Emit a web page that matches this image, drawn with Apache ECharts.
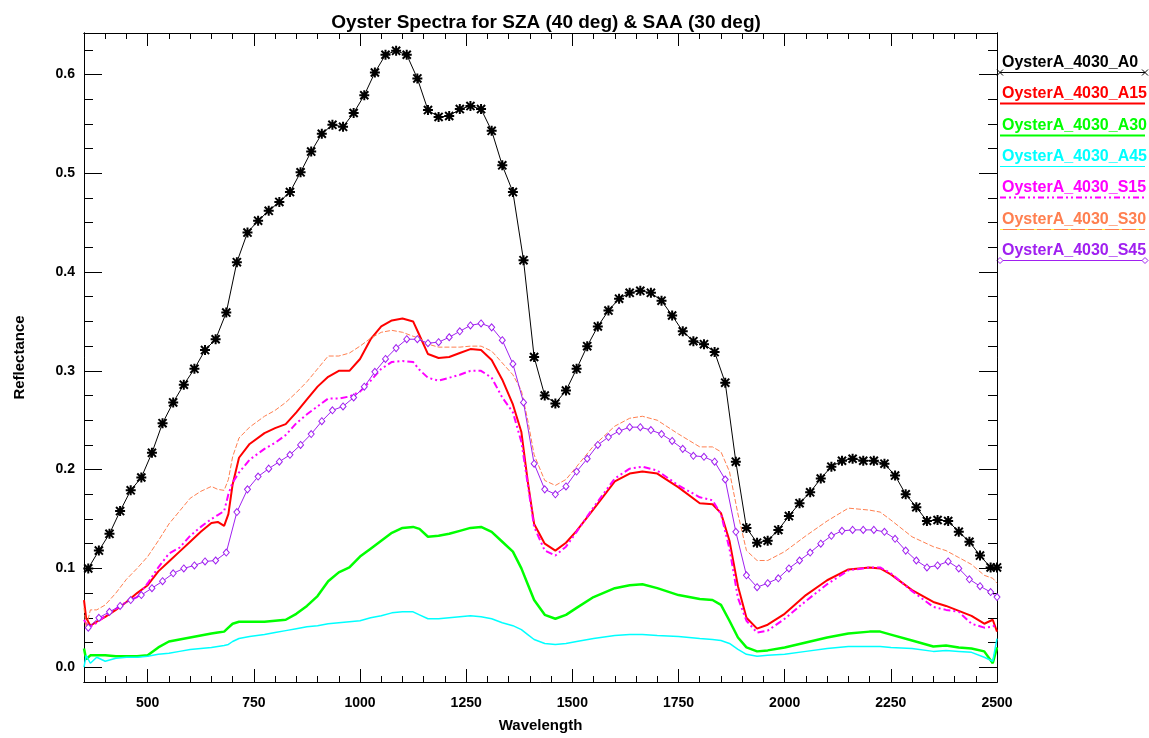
<!DOCTYPE html>
<html>
<head>
<meta charset="utf-8">
<title>Oyster Spectra</title>
<script src="https://cdn.jsdelivr.net/npm/echarts@6/dist/echarts.min.js"></script>
<style>
  html, body { margin: 0; padding: 0; background: #fff; }
  #chart { width: 1149px; height: 738px; }
</style>
</head>
<body>
<div id="chart"></div>
<script>
// wavelengths of the marked spectra (A0 and S45 are plotted every 25 nm)
const wlMarked = [
  360, 385, 410, 435, 460, 485, 510, 535, 560, 585,
  610, 635, 660, 685, 710, 735, 760, 785, 810, 835,
  860, 885, 910, 935, 960, 985, 1010, 1035, 1060, 1085,
  1110, 1135, 1160, 1185, 1210, 1235, 1260, 1285, 1310, 1335,
  1360, 1385, 1410, 1435, 1460, 1485, 1510, 1535, 1560, 1585,
  1610, 1635, 1660, 1685, 1710, 1735, 1760, 1785, 1810, 1835,
  1860, 1885, 1910, 1935, 1960, 1985, 2010, 2035, 2060, 2085,
  2110, 2135, 2160, 2185, 2210, 2235, 2260, 2285, 2310, 2335,
  2360, 2385, 2410, 2435, 2460, 2485, 2500
];
const oysterA0 = [
  0.100, 0.118, 0.135, 0.158, 0.179, 0.192, 0.217, 0.247, 0.268, 0.286,
  0.302, 0.321, 0.332, 0.359, 0.410, 0.440, 0.452, 0.462, 0.471, 0.481,
  0.501, 0.522, 0.540, 0.549, 0.547, 0.561, 0.579, 0.602, 0.620, 0.624,
  0.620, 0.596, 0.564, 0.557, 0.558, 0.565, 0.568, 0.565, 0.543, 0.508,
  0.481, 0.412, 0.314, 0.275, 0.267, 0.280, 0.302, 0.325, 0.345, 0.361,
  0.373, 0.379, 0.381, 0.379, 0.371, 0.356, 0.340, 0.330, 0.327, 0.319,
  0.288, 0.208, 0.141, 0.126, 0.128, 0.139, 0.153, 0.166, 0.177, 0.191,
  0.203, 0.209, 0.211, 0.209, 0.209, 0.206, 0.194, 0.175, 0.162, 0.148,
  0.149, 0.148, 0.137, 0.127, 0.113, 0.101, 0.101
];
const oysterS45 = [
  0.040, 0.050, 0.056, 0.062, 0.068, 0.073, 0.080, 0.087, 0.095, 0.100,
  0.103, 0.107, 0.108, 0.116, 0.157, 0.180, 0.193, 0.201, 0.208, 0.215,
  0.225, 0.236, 0.249, 0.260, 0.264, 0.273, 0.284, 0.299, 0.312, 0.323,
  0.332, 0.332, 0.328, 0.329, 0.334, 0.340, 0.346, 0.348, 0.344, 0.331,
  0.307, 0.268, 0.206, 0.180, 0.175, 0.183, 0.198, 0.211, 0.225, 0.233,
  0.239, 0.243, 0.243, 0.240, 0.236, 0.229, 0.221, 0.214, 0.213, 0.208,
  0.190, 0.137, 0.093, 0.081, 0.085, 0.090, 0.100, 0.108, 0.116, 0.125,
  0.133, 0.138, 0.139, 0.139, 0.139, 0.137, 0.130, 0.118, 0.108, 0.101,
  0.103, 0.107, 0.100, 0.089, 0.082, 0.076, 0.071
];

// wavelengths for the full-resolution spectra
const wlSpec = [
  350, 355, 365, 380, 400, 425, 450, 475, 500, 525,
  550, 575, 600, 625, 650, 665, 680, 690, 700, 715,
  740, 775, 800, 825, 850, 875, 900, 925, 950, 975,
  1000, 1025, 1050, 1075, 1100, 1125, 1140, 1160, 1185, 1210,
  1235, 1260, 1285, 1310, 1335, 1360, 1380, 1395, 1410, 1435,
  1460, 1485, 1510, 1550, 1600, 1635, 1665, 1700, 1750, 1800,
  1830, 1850, 1870, 1890, 1910, 1935, 1960, 2000, 2050, 2100,
  2150, 2200, 2225, 2250, 2300, 2350, 2380, 2410, 2440, 2470,
  2490, 2500
];
const oysterA15 = [
  0.068, 0.050, 0.042, 0.046, 0.051, 0.058, 0.066, 0.075, 0.083, 0.097,
  0.107, 0.117, 0.127, 0.137, 0.146, 0.147, 0.143, 0.155, 0.185, 0.212,
  0.226, 0.237, 0.242, 0.246, 0.258, 0.271, 0.284, 0.294, 0.300, 0.300,
  0.312, 0.332, 0.345, 0.351, 0.353, 0.350, 0.336, 0.317, 0.313, 0.314,
  0.318, 0.322, 0.321, 0.311, 0.291, 0.266, 0.238, 0.188, 0.145, 0.125,
  0.118, 0.126, 0.138, 0.160, 0.188, 0.196, 0.198, 0.196, 0.182, 0.166,
  0.165, 0.156, 0.128, 0.082, 0.050, 0.039, 0.043, 0.054, 0.073, 0.088,
  0.099, 0.101, 0.100, 0.094, 0.078, 0.066, 0.062, 0.057, 0.052, 0.044,
  0.048, 0.036
];
const oysterA30 = [
  0.019, 0.008, 0.012, 0.012, 0.012, 0.011, 0.011, 0.011, 0.012, 0.020,
  0.026, 0.028, 0.030, 0.032, 0.034, 0.035, 0.036, 0.040, 0.044, 0.046,
  0.046, 0.046, 0.047, 0.048, 0.054, 0.062, 0.072, 0.087, 0.096, 0.101,
  0.112, 0.120, 0.128, 0.136, 0.141, 0.142, 0.140, 0.132, 0.133, 0.135,
  0.138, 0.141, 0.142, 0.137, 0.127, 0.117, 0.100, 0.084, 0.068, 0.053,
  0.049, 0.053, 0.060, 0.071, 0.080, 0.083, 0.084, 0.080, 0.073, 0.069,
  0.068, 0.063, 0.047, 0.030, 0.020, 0.016, 0.017, 0.020, 0.025, 0.030,
  0.034, 0.036, 0.036, 0.033, 0.027, 0.021, 0.022, 0.020, 0.019, 0.016,
  0.004, 0.020
];
const oysterA45 = [
  0.000, 0.012, 0.004, 0.010, 0.006, 0.009, 0.010, 0.010, 0.011, 0.013,
  0.014, 0.016, 0.018, 0.019, 0.020, 0.021, 0.022, 0.023, 0.026, 0.029,
  0.031, 0.033, 0.035, 0.037, 0.039, 0.041, 0.042, 0.044, 0.045, 0.046,
  0.047, 0.050, 0.052, 0.055, 0.056, 0.056, 0.053, 0.049, 0.049, 0.050,
  0.051, 0.052, 0.051, 0.049, 0.045, 0.042, 0.038, 0.033, 0.028, 0.024,
  0.023, 0.024, 0.026, 0.029, 0.032, 0.033, 0.033, 0.032, 0.031, 0.029,
  0.028, 0.027, 0.024, 0.018, 0.013, 0.011, 0.012, 0.013, 0.016, 0.019,
  0.021, 0.021, 0.021, 0.020, 0.019, 0.016, 0.017, 0.016, 0.015, 0.010,
  0.006, 0.029
];
const oysterS15 = [
  0.048, 0.044, 0.041, 0.045, 0.052, 0.059, 0.066, 0.071, 0.085, 0.101,
  0.115, 0.121, 0.133, 0.142, 0.150, 0.154, 0.158, 0.175, 0.187, 0.197,
  0.210, 0.221, 0.227, 0.235, 0.247, 0.256, 0.264, 0.272, 0.272, 0.274,
  0.279, 0.290, 0.302, 0.309, 0.310, 0.309, 0.301, 0.293, 0.290, 0.293,
  0.296, 0.300, 0.300, 0.293, 0.273, 0.258, 0.228, 0.185, 0.142, 0.118,
  0.113, 0.122, 0.137, 0.162, 0.191, 0.201, 0.203, 0.199, 0.184, 0.172,
  0.169, 0.155, 0.120, 0.070, 0.047, 0.035, 0.037, 0.049, 0.067, 0.084,
  0.098, 0.101, 0.101, 0.095, 0.077, 0.061, 0.058, 0.056, 0.044, 0.040,
  0.041, 0.044
];
const oysterS30 = [
  0.060, 0.040, 0.058, 0.058, 0.063, 0.075, 0.089, 0.100, 0.112, 0.128,
  0.145, 0.158, 0.171, 0.178, 0.183, 0.180, 0.179, 0.190, 0.213, 0.232,
  0.243, 0.254, 0.260, 0.268, 0.278, 0.289, 0.302, 0.315, 0.315, 0.318,
  0.325, 0.333, 0.339, 0.341, 0.339, 0.335, 0.333, 0.327, 0.324, 0.324,
  0.324, 0.325, 0.325, 0.320, 0.308, 0.296, 0.280, 0.250, 0.215, 0.189,
  0.184, 0.190, 0.203, 0.224, 0.244, 0.252, 0.254, 0.250, 0.236, 0.223,
  0.223, 0.218, 0.198, 0.155, 0.118, 0.108, 0.108, 0.117, 0.133, 0.148,
  0.161, 0.159, 0.157, 0.149, 0.132, 0.122, 0.118, 0.111, 0.104, 0.093,
  0.090, 0.085
];

const seriesNames = [
  'OysterA_4030_A0', 'OysterA_4030_A15', 'OysterA_4030_A30', 'OysterA_4030_A45',
  'OysterA_4030_S15', 'OysterA_4030_S30', 'OysterA_4030_S45'
];
const seriesColors = ['#000000', '#ff0000', '#00ff00', '#00ffff', '#ff00ff', '#ff7f50', '#a020f0'];

const xMajorTicks = [500, 750, 1000, 1250, 1500, 1750, 2000, 2250, 2500];
const yMajorTicks = [0, 0.1, 0.2, 0.3, 0.4, 0.5, 0.6];

// minor ticks: every 50 nm and every 0.025
const xMinorTicks = [];
for (let v = 400; v < 2500; v += 50) xMinorTicks.push(v);
const yMinorTicks = [];
for (let k = 1; k <= 25; k++) yMinorTicks.push(Math.round(k * 25) / 1000);

const FONT = 'Liberation Sans, Arial, sans-serif';
const chart = echarts.init(document.getElementById('chart'), null, { renderer: 'canvas' });

function pairs(xs, ys) {
  return xs.map((x, i) => [x, ys[i]]);
}

// asterisk-like marker (IDL psym 2)
const starPath = 'path://M0,8L20,8L20,12L0,12Z M8,0L12,0L12,20L8,20Z M0.5,3.3L3.3,0.5L19.5,16.7L16.7,19.5Z M16.7,0.5L19.5,3.3L3.3,19.5L0.5,16.7Z';

function xAxisDef(pos, ticks, len, labels) {
  return {
    type: 'value', position: pos, min: 350, max: 2500,
    axisLine: { show: true, onZero: false, lineStyle: { color: '#000', width: 1 } },
    axisTick: { show: true, inside: true, length: len, customValues: ticks, lineStyle: { color: '#000' } },
    axisLabel: labels ? {
      show: true, customValues: xMajorTicks, margin: 14,
      formatter: v => String(v),
      color: '#000', fontFamily: FONT, fontWeight: 'bold', fontSize: 14
    } : { show: false },
    splitLine: { show: false }
  };
}
function yAxisDef(pos, ticks, len, labels) {
  return {
    type: 'value', position: pos, min: -0.015, max: 0.642,
    axisLine: { show: true, onZero: false, lineStyle: { color: '#000', width: 1 } },
    axisTick: { show: true, inside: true, length: len, customValues: ticks, lineStyle: { color: '#000' } },
    axisLabel: labels ? {
      show: true, customValues: yMajorTicks, margin: 9,
      formatter: v => v.toFixed(1),
      color: '#000', fontFamily: FONT, fontWeight: 'bold', fontSize: 14
    } : { show: false },
    splitLine: { show: false }
  };
}

const xAxes = [
  xAxisDef('bottom', xMajorTicks, 13, true),
  xAxisDef('bottom', xMinorTicks, 6, false),
  xAxisDef('top', xMajorTicks, 13, false),
  xAxisDef('top', xMinorTicks, 6, false)
];
Object.assign(xAxes[0], {
  name: 'Wavelength', nameLocation: 'middle', nameGap: 36,
  nameTextStyle: { color: '#000', fontFamily: FONT, fontWeight: 'bold', fontSize: 15 }
});
const yAxes = [
  yAxisDef('left', yMajorTicks, 18, true),
  yAxisDef('left', yMinorTicks, 9, false),
  yAxisDef('right', yMajorTicks, 18, false),
  yAxisDef('right', yMinorTicks, 9, false)
];
Object.assign(yAxes[0], {
  name: 'Reflectance', nameLocation: 'middle', nameGap: 57, nameRotate: 90,
  nameTextStyle: { color: '#000', fontFamily: FONT, fontWeight: 'bold', fontSize: 15 }
});

const lineStyles = [
  { width: 1, type: 'solid' },
  { width: 2, type: 'solid' },
  { width: 2.5, type: 'solid' },
  { width: 1.5, type: 'solid' },
  { width: 2, type: [7, 3, 2, 3, 2, 3] },
  { width: 1, type: [5, 2] },
  { width: 1, type: 'solid' }
];
const seriesData = [
  pairs(wlMarked, oysterA0),
  pairs(wlSpec, oysterA15),
  pairs(wlSpec, oysterA30),
  pairs(wlSpec, oysterA45),
  pairs(wlSpec, oysterS15),
  pairs(wlSpec, oysterS30),
  pairs(wlMarked, oysterS45)
];

const series = seriesNames.map((name, i) => {
  const s = {
    name: name,
    type: 'line',
    xAxisIndex: 0,
    yAxisIndex: 0,
    data: seriesData[i],
    showSymbol: false,
    symbol: 'none',
    lineStyle: Object.assign({ color: seriesColors[i] }, lineStyles[i]),
    itemStyle: { color: seriesColors[i] },
    clip: true,
    z: 2 + i
  };
  if (i === 0) {
    s.showSymbol = true;
    s.symbol = starPath;
    s.symbolSize = 10;
  }
  if (i === 6) {
    s.showSymbol = true;
    s.symbol = 'diamond';
    s.symbolSize = [6, 7];
    s.itemStyle = { color: '#ffffff', borderColor: seriesColors[i], borderWidth: 1 };
  }
  return s;
});

// legend drawn IDL-style: coloured name with the line sample under it
const legendGraphics = [];
const legX0 = 1000, legX1 = 1145;
seriesNames.forEach((name, i) => {
  const ly = Math.round(72 + i * 31.3) + 0.5;
  const col = seriesColors[i];
  legendGraphics.push({
    type: 'line', shape: { x1: legX0, y1: ly, x2: legX1, y2: ly },
    style: { stroke: col, lineWidth: lineStyles[i].width > 1.5 ? 2 : 1,
      lineDash: i === 4 ? [6, 3, 2, 3, 2, 3] : null }
  });
  if (i === 5) {
    legendGraphics.push({ type: 'line', shape: { x1: legX0, y1: ly, x2: legX1, y2: ly },
      style: { stroke: '#ffff40', lineWidth: 1, lineDash: [3, 14] } });
  }
  legendGraphics.push({
    type: 'text', left: 1002, top: ly - 18,
    style: { text: name, fill: col, font: 'bold 16px ' + FONT }
  });
  if (i === 0) {
    [legX0, legX1].forEach(cx => {
      legendGraphics.push({ type: 'line', shape: { x1: cx - 3, y1: ly - 3, x2: cx + 3, y2: ly + 3 }, style: { stroke: col, lineWidth: 1 } });
      legendGraphics.push({ type: 'line', shape: { x1: cx - 3, y1: ly + 3, x2: cx + 3, y2: ly - 3 }, style: { stroke: col, lineWidth: 1 } });
    });
  }
  if (i === 6) {
    [legX0, legX1].forEach(cx => {
      legendGraphics.push({ type: 'polygon', shape: { points: [[cx, ly - 3], [cx + 3, ly], [cx, ly + 3], [cx - 3, ly]] },
        style: { fill: '#fff', stroke: col, lineWidth: 1 } });
    });
  }
});

const option = {
  backgroundColor: '#ffffff',
  animation: false,
  title: {
    text: 'Oyster Spectra for SZA (40 deg) & SAA (30 deg)',
    left: 541, top: 8, textAlign: 'center',
    textStyle: { color: '#000', fontFamily: FONT, fontWeight: 'bold', fontSize: 19 }
  },
  grid: { left: 84, right: 152, top: 33, bottom: 55, containLabel: false },
  xAxis: xAxes,
  yAxis: yAxes,
  series: series,
  graphic: legendGraphics
};

chart.setOption(option);
</script>
</body>
</html>
